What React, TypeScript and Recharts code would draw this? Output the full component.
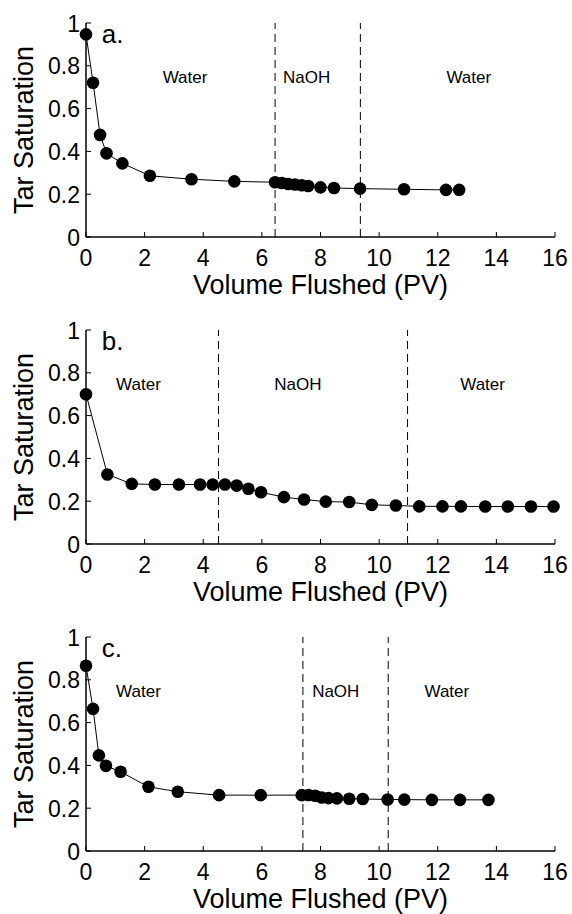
import React from 'react';
import { LineChart, Line, XAxis, YAxis, ReferenceLine, ReferenceDot } from 'recharts';

const FONT = '"Liberation Sans", Arial, Helvetica, sans-serif';

// Axis ticks
const xTicks = [0, 2, 4, 6, 8, 10, 12, 14, 16];
const yTicks = [0, 0.2, 0.4, 0.6, 0.8, 1];
const xAxisTitle = 'Volume Flushed (PV)';
const yAxisTitle = 'Tar Saturation';

// Panel a
const volumeA = [0, 0.24, 0.48, 0.7, 1.24, 2.18, 3.6, 5.06, 6.45, 6.68, 6.9, 7.13, 7.36, 7.58, 8.0, 8.46, 9.35, 10.85, 12.28, 12.73];
const saturationA = [0.947, 0.721, 0.477, 0.391, 0.344, 0.286, 0.27, 0.26, 0.256, 0.252, 0.248, 0.245, 0.242, 0.238, 0.232, 0.229, 0.226, 0.223, 0.22, 0.22];
const boundariesA = [6.45, 9.36];
const phaseNamesA = ['Water', 'NaOH', 'Water'];
const phaseCentersA = [3.38, 7.53, 13.06];

// Panel b
const volumeB = [0, 0.73, 1.56, 2.35, 3.17, 3.89, 4.32, 4.74, 5.14, 5.54, 5.97, 6.75, 7.44, 8.18, 8.98, 9.75, 10.57, 11.37, 12.16, 12.79, 13.62, 14.39, 15.18, 15.95];
const saturationB = [0.7, 0.325, 0.281, 0.278, 0.278, 0.278, 0.278, 0.278, 0.273, 0.258, 0.242, 0.219, 0.208, 0.198, 0.196, 0.183, 0.18, 0.176, 0.176, 0.176, 0.175, 0.175, 0.175, 0.175];
const boundariesB = [4.52, 10.97];
const phaseNamesB = ['Water', 'NaOH', 'Water'];
const phaseCentersB = [1.79, 7.23, 13.53];

// Panel c
const volumeC = [0, 0.24, 0.44, 0.68, 1.18, 2.13, 3.13, 4.54, 5.96, 7.36, 7.59, 7.82, 8.04, 8.27, 8.56, 8.98, 9.44, 10.29, 10.86, 11.8, 12.76, 13.73];
const saturationC = [0.866, 0.664, 0.447, 0.398, 0.37, 0.3, 0.277, 0.261, 0.261, 0.261, 0.262, 0.258, 0.25, 0.247, 0.246, 0.244, 0.243, 0.241, 0.24, 0.239, 0.239, 0.239];
const boundariesC = [7.4, 10.31];
const phaseNamesC = ['Water', 'NaOH', 'Water'];
const phaseCentersC = [1.79, 8.52, 12.31];

const AXIS_STROKE = { stroke: '#000', strokeWidth: 1.5 };

const BottomTick = (props: any) => {
  const { x, y, payload } = props;
  return (
    <g>
      <line x1={x} x2={x} y1={y} y2={y - 5} stroke="#000" strokeWidth={1} />
      <text x={x} y={y + 28.5} textAnchor="middle" fontSize={23} fontFamily={FONT} fill="#000">
        {String(payload.value)}
      </text>
    </g>
  );
};

const TopTick = (props: any) => {
  const { x, y } = props;
  return <line x1={x} x2={x} y1={y} y2={y + 5} stroke="#000" strokeWidth={1} />;
};

const LeftTick = (props: any) => {
  const { x, y, payload } = props;
  return (
    <g>
      <line x1={x} x2={x + 5} y1={y} y2={y} stroke="#000" strokeWidth={1} />
      <text x={x - 6} y={y + 8.5} textAnchor="end" fontSize={23} fontFamily={FONT} fill="#000">
        {String(payload.value)}
      </text>
    </g>
  );
};

const RightTick = (props: any) => {
  const { x, y } = props;
  return <line x1={x} x2={x - 5} y1={y} y2={y} stroke="#000" strokeWidth={1} />;
};

const XTitle = (props: any) => {
  const vb = props.viewBox;
  return (
    <text x={vb.x + vb.width / 2} y={vb.y + 57} textAnchor="middle" fontSize={27} fontFamily={FONT} fill="#000">
      {xAxisTitle}
    </text>
  );
};

const YTitle = (props: any) => {
  const vb = props.viewBox;
  const cx = vb.x + 25;
  const cy = vb.y + vb.height / 2;
  return (
    <text x={cx} y={cy} transform={`rotate(-90, ${cx}, ${cy})`} textAnchor="middle" fontSize={27} fontFamily={FONT} fill="#000">
      {yAxisTitle}
    </text>
  );
};

const makeText = (txt: string, size: number, anchor: string) => (props: any) => {
  const vb = props.viewBox;
  return (
    <text x={vb.x} y={vb.y} textAnchor={anchor} fontSize={size} fontFamily={FONT} fill="#000">
      {txt}
    </text>
  );
};

type PanelProps = {
  letter: string;
  xs: number[];
  ys: number[];
  boundaries: number[];
  names: string[];
  centers: number[];
  height: number;
  xAxisHeight: number;
};

const Panel = ({ letter, xs, ys, boundaries, names, centers, height, xAxisHeight }: PanelProps) => {
  const data = xs.map((x, i) => ({ x, y: ys[i] }));
  return (
    <div style={{ width: 564, height, overflow: 'visible' }}>
      <LineChart width={564} height={height} data={data} margin={{ top: 15, right: 17, left: 0, bottom: 0 }} style={{ overflow: 'visible' }}>
        <XAxis
          dataKey="x"
          type="number"
          domain={[0, 16]}
          ticks={xTicks}
          interval={0}
          tickSize={0}
          tickMargin={0}
          tickLine={false}
          tick={<BottomTick />}
          axisLine={AXIS_STROKE}
          height={xAxisHeight}
          label={{ content: <XTitle /> }}
        />
        <XAxis
          xAxisId="top"
          orientation="top"
          type="number"
          domain={[0, 16]}
          allowDataOverflow
          ticks={xTicks}
          interval={0}
          tickSize={0}
          tickMargin={0}
          tickLine={false}
          tick={<TopTick />}
          axisLine={AXIS_STROKE}
          height={0}
        />
        <YAxis
          type="number"
          domain={[0, 1]}
          ticks={yTicks}
          interval={0}
          tickSize={0}
          tickMargin={0}
          tickLine={false}
          tick={<LeftTick />}
          axisLine={AXIS_STROKE}
          width={78}
          label={{ content: <YTitle /> }}
        />
        <YAxis
          yAxisId="right"
          orientation="right"
          type="number"
          domain={[0, 1]}
          allowDataOverflow
          ticks={yTicks}
          interval={0}
          tickSize={0}
          tickMargin={0}
          tickLine={false}
          tick={<RightTick />}
          axisLine={AXIS_STROKE}
          width={0}
        />
        {boundaries.map((b, i) => (
          <ReferenceLine key={'b' + i} x={b} stroke="#000" strokeWidth={1} strokeDasharray="8 5" />
        ))}
        {names.map((n, i) => (
          <ReferenceDot
            key={'n' + i}
            x={centers[i]}
            y={0.72}
            r={0}
            fill="none"
            stroke="none"
            label={{ content: makeText(n, 17, 'middle') }}
          />
        ))}
        <ReferenceDot
          x={0.535}
          y={0.905}
          r={0}
          fill="none"
          stroke="none"
          label={{ content: makeText(letter, 26, 'start') }}
        />
        <Line
          type="linear"
          dataKey="y"
          stroke="#000"
          strokeWidth={1}
          dot={{ r: 6.3, fill: '#000', stroke: '#000', strokeWidth: 0 }}
          activeDot={false}
          isAnimationActive={false}
        />
      </LineChart>
    </div>
  );
};

export default function App() {
  return (
    <div
      style={{
        position: 'absolute',
        left: 0,
        top: 0,
        width: 572,
        height: 914,
        overflow: 'hidden',
        padding: '8px 0 0 8px',
        boxSizing: 'border-box',
        background: '#fff',
      }}
    >
      <Panel letter="a." xs={volumeA} ys={saturationA} boundaries={boundariesA} names={phaseNamesA} centers={phaseCentersA} height={307} xAxisHeight={78} />
      <Panel letter="b." xs={volumeB} ys={saturationB} boundaries={boundariesB} names={phaseNamesB} centers={phaseCentersB} height={307} xAxisHeight={78} />
      <Panel letter="c." xs={volumeC} ys={saturationC} boundaries={boundariesC} names={phaseNamesC} centers={phaseCentersC} height={292} xAxisHeight={63} />
    </div>
  );
}
